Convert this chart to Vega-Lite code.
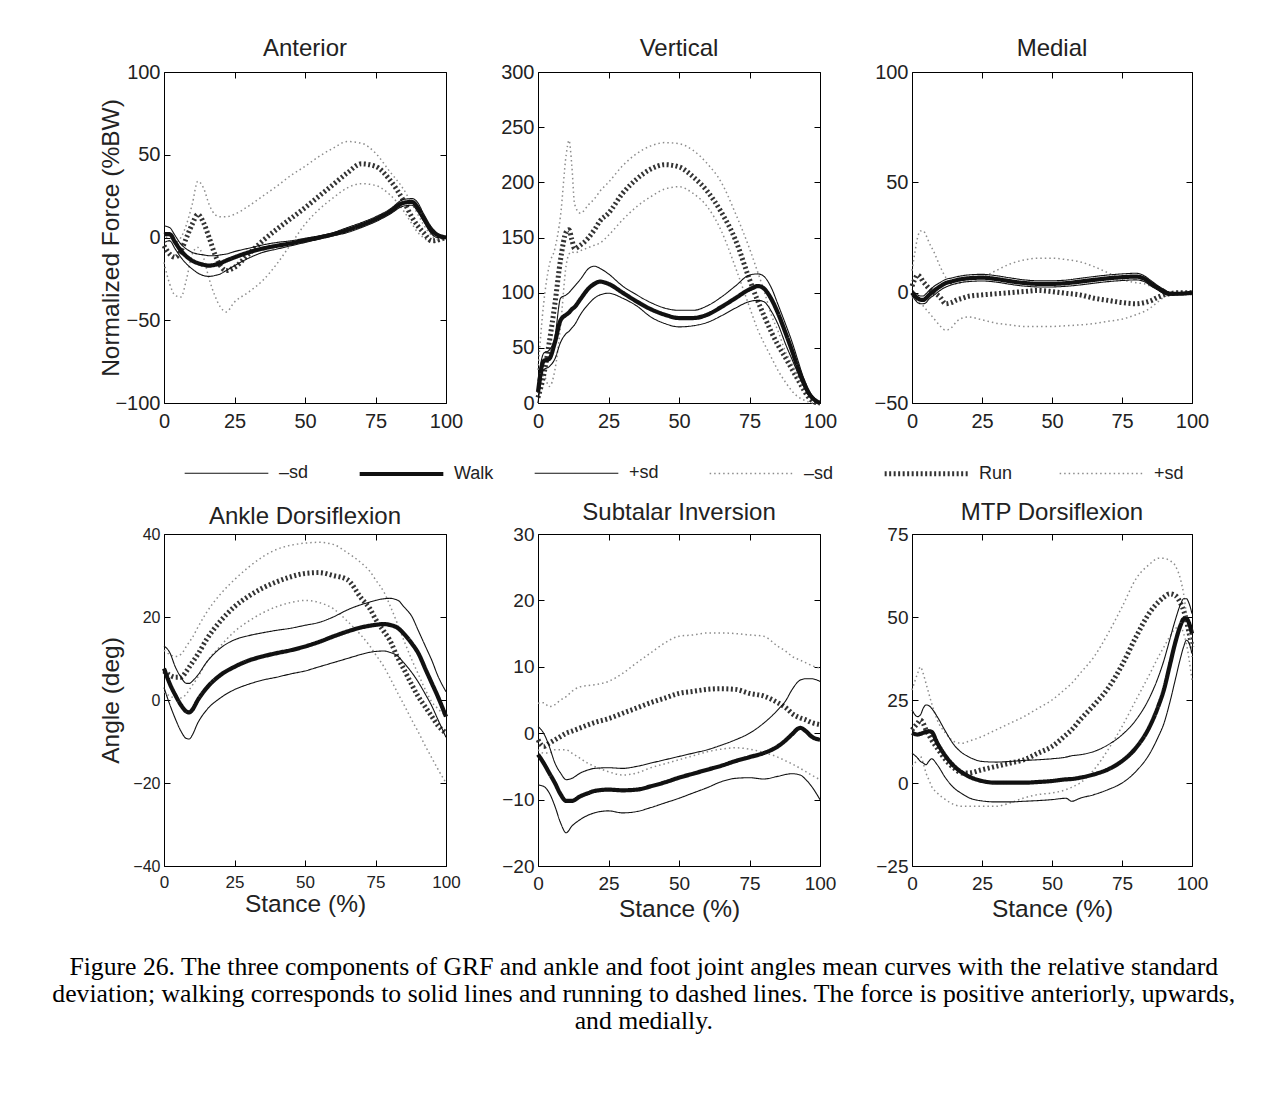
{
"$schema": "https://vega.github.io/schema/vega-lite/v6.json",
"background": "white",
"padding": {"left": 52, "top": 36, "right": 20, "bottom": 20},
"columns": 3,
"spacing": {"row": 131, "column": 92},
"bounds": "flush",
"title": {"text": ["Figure 26. The three components of GRF and ankle and foot joint angles mean curves with the relative standard", "deviation; walking corresponds to solid lines and running to dashed lines. The force is positive anteriorly, upwards,", "and medially."], "orient": "bottom", "anchor": "middle", "font": "Liberation Serif", "fontSize": 25.7, "fontWeight": "normal", "color": "#000000", "lineHeight": 27, "offset": 34, "dx": -10},
"datasets": {
"ant": [
{"x":0,"wm":-3,"w":2,"wp":7,"rm":-15,"r":-5,"rp":3},
{"x":2,"wm":-2,"w":2,"wp":6,"rm":-28,"r":-10,"rp":-2},
{"x":4,"wm":-7,"w":-3,"wp":1,"rm":-35,"r":-12,"rp":-3},
{"x":6,"wm":-12,"w":-8,"wp":-4,"rm":-36,"r":-8,"rp":0},
{"x":8,"wm":-16,"w":-11.5,"wp":-7,"rm":-25,"r":0,"rp":8},
{"x":10,"wm":-19,"w":-14,"wp":-9,"rm":-10,"r":8,"rp":20},
{"x":12,"wm":-21.5,"w":-15.5,"wp":-10,"rm":-6,"r":14,"rp":34},
{"x":14,"wm":-23,"w":-16.5,"wp":-10.5,"rm":-12,"r":9,"rp":30},
{"x":16,"wm":-23.5,"w":-17,"wp":-11,"rm":-25,"r":0,"rp":20},
{"x":18,"wm":-23,"w":-16.5,"wp":-11,"rm":-35,"r":-10,"rp":14},
{"x":20,"wm":-22,"w":-15.5,"wp":-10.5,"rm":-42,"r":-17,"rp":12.5},
{"x":22,"wm":-20,"w":-14,"wp":-10,"rm":-45,"r":-20,"rp":12.5},
{"x":25,"wm":-17,"w":-12,"wp":-8.5,"rm":-39,"r":-18,"rp":14},
{"x":30,"wm":-12.5,"w":-9,"wp":-6.5,"rm":-33,"r":-10,"rp":19},
{"x":35,"wm":-9,"w":-6.7,"wp":-4.5,"rm":-26,"r":-2,"rp":25},
{"x":40,"wm":-7,"w":-5,"wp":-3,"rm":-16,"r":5,"rp":31},
{"x":45,"wm":-5,"w":-3.5,"wp":-2,"rm":-4,"r":11.5,"rp":37.5},
{"x":50,"wm":-3,"w":-1.7,"wp":-0.5,"rm":8,"r":18,"rp":43},
{"x":55,"wm":-1,"w":0,"wp":1,"rm":17,"r":25,"rp":49},
{"x":60,"wm":1,"w":2,"wp":3,"rm":24,"r":32,"rp":54},
{"x":65,"wm":3,"w":4.5,"wp":6,"rm":30,"r":39,"rp":58},
{"x":70,"wm":6,"w":7.5,"wp":9,"rm":32.5,"r":44.5,"rp":57},
{"x":75,"wm":9.5,"w":11,"wp":12.5,"rm":31.5,"r":43,"rp":51},
{"x":80,"wm":14,"w":15.5,"wp":17,"rm":26,"r":35,"rp":40},
{"x":85,"wm":19,"w":21,"wp":23,"rm":16,"r":22,"rp":29},
{"x":88,"wm":19.5,"w":21.5,"wp":23.5,"rm":8,"r":12,"rp":20},
{"x":90,"wm":15.5,"w":18,"wp":21,"rm":3,"r":7,"rp":14},
{"x":92,"wm":10,"w":12,"wp":14.5,"rm":0,"r":3,"rp":8},
{"x":95,"wm":2,"w":4,"wp":6,"rm":-3,"r":-2,"rp":1},
{"x":97,"wm":0,"w":1.5,"wp":2.5,"rm":-2,"r":-1.5,"rp":-1},
{"x":100,"wm":0,"w":0,"wp":0,"rm":0,"r":0,"rp":0}
],
"vert": [
{"x":0,"wm":0,"w":10,"wp":20,"rm":0,"r":5,"rp":30},
{"x":2,"wm":30,"w":38,"wp":45,"rm":25,"r":25,"rp":90},
{"x":4,"wm":33,"w":40,"wp":48,"rm":15,"r":55,"rp":125},
{"x":6,"wm":40,"w":55,"wp":60,"rm":30,"r":90,"rp":140},
{"x":8,"wm":55,"w":75,"wp":95,"rm":70,"r":130,"rp":170},
{"x":10,"wm":63,"w":80,"wp":98,"rm":125,"r":155,"rp":225},
{"x":11,"wm":65,"w":82,"wp":100,"rm":135,"r":157,"rp":238},
{"x":12,"wm":68,"w":85,"wp":103,"rm":137,"r":148,"rp":215},
{"x":13,"wm":71,"w":87,"wp":106,"rm":136,"r":140,"rp":180},
{"x":15,"wm":80,"w":94,"wp":112,"rm":138,"r":143,"rp":172},
{"x":18,"wm":90,"w":104,"wp":122,"rm":141,"r":150,"rp":180},
{"x":20,"wm":95,"w":108,"wp":124,"rm":143,"r":157,"rp":185},
{"x":22,"wm":98,"w":110,"wp":122,"rm":145,"r":165,"rp":192},
{"x":25,"wm":99.5,"w":108,"wp":117,"rm":152,"r":172,"rp":200},
{"x":30,"wm":95,"w":100,"wp":106,"rm":166,"r":190,"rp":215},
{"x":35,"wm":88,"w":92,"wp":98,"rm":178,"r":203,"rp":226},
{"x":40,"wm":78,"w":85,"wp":91,"rm":187,"r":212,"rp":233},
{"x":45,"wm":72,"w":80,"wp":86,"rm":194,"r":216,"rp":236},
{"x":50,"wm":69,"w":77,"wp":84,"rm":196,"r":214,"rp":235},
{"x":55,"wm":70,"w":77,"wp":84,"rm":190,"r":205,"rp":229},
{"x":60,"wm":73,"w":80,"wp":88,"rm":178,"r":192,"rp":217},
{"x":65,"wm":79,"w":87,"wp":96,"rm":156,"r":173,"rp":200},
{"x":70,"wm":86,"w":95,"wp":106,"rm":123,"r":148,"rp":172},
{"x":75,"wm":92,"w":103,"wp":116,"rm":87,"r":112,"rp":140},
{"x":78,"wm":93,"w":106,"wp":117,"rm":66,"r":92,"rp":118},
{"x":80,"wm":92,"w":104,"wp":115,"rm":55,"r":80,"rp":103},
{"x":83,"wm":82,"w":93,"wp":103,"rm":40,"r":63,"rp":78},
{"x":85,"wm":72,"w":82,"wp":90,"rm":30,"r":53,"rp":66},
{"x":88,"wm":52,"w":62,"wp":70,"rm":18,"r":40,"rp":45},
{"x":90,"wm":40,"w":48,"wp":56,"rm":11,"r":31,"rp":36},
{"x":92,"wm":28,"w":33,"wp":40,"rm":6,"r":22,"rp":24},
{"x":94,"wm":16,"w":20,"wp":24,"rm":3,"r":13,"rp":15},
{"x":96,"wm":7,"w":9,"wp":12,"rm":1,"r":5,"rp":8},
{"x":98,"wm":2,"w":3,"wp":4,"rm":0,"r":1,"rp":3},
{"x":100,"wm":0,"w":0,"wp":0,"rm":0,"r":0,"rp":0}
],
"med": [
{"x":0,"wm":-1.5,"w":0,"wp":1.5,"rm":-2,"r":3,"rp":10},
{"x":1,"wm":-3,"w":-1.5,"wp":0,"rm":-3,"r":6,"rp":18},
{"x":2,"wm":-4.5,"w":-2.5,"wp":-1,"rm":-4,"r":8,"rp":25},
{"x":3,"wm":-5,"w":-3.2,"wp":-1.5,"rm":-5,"r":7,"rp":28},
{"x":4,"wm":-5,"w":-3.3,"wp":-1.5,"rm":-6,"r":5,"rp":28},
{"x":5,"wm":-4.5,"w":-2.5,"wp":-0.5,"rm":-7.5,"r":3.5,"rp":26},
{"x":6,"wm":-3,"w":-1.2,"wp":0.8,"rm":-9,"r":2,"rp":23},
{"x":8,"wm":-1,"w":1,"wp":3,"rm":-12,"r":0,"rp":18},
{"x":10,"wm":1,"w":2.8,"wp":4.6,"rm":-15,"r":-2,"rp":12},
{"x":12,"wm":2.5,"w":4.3,"wp":6,"rm":-17,"r":-5,"rp":7},
{"x":14,"wm":3.5,"w":5,"wp":6.6,"rm":-16,"r":-4.5,"rp":4},
{"x":16,"wm":4.2,"w":5.7,"wp":7.2,"rm":-13,"r":-3.3,"rp":4},
{"x":18,"wm":4.7,"w":6.2,"wp":7.7,"rm":-11.5,"r":-2.5,"rp":5},
{"x":20,"wm":5,"w":6.5,"wp":8,"rm":-11,"r":-1.7,"rp":6},
{"x":25,"wm":5.3,"w":6.8,"wp":8.3,"rm":-12.3,"r":-1,"rp":7},
{"x":30,"wm":4.8,"w":6.2,"wp":7.7,"rm":-13.8,"r":-0.5,"rp":10},
{"x":35,"wm":3.8,"w":5.2,"wp":6.7,"rm":-14.6,"r":0,"rp":13},
{"x":40,"wm":3,"w":4.4,"wp":5.8,"rm":-15.3,"r":0.5,"rp":14.8},
{"x":45,"wm":2.6,"w":4,"wp":5.4,"rm":-15.3,"r":1,"rp":15.6},
{"x":50,"wm":2.6,"w":4,"wp":5.4,"rm":-15.3,"r":0.5,"rp":15.6},
{"x":55,"wm":2.9,"w":4.3,"wp":5.7,"rm":-15,"r":-0.3,"rp":15},
{"x":60,"wm":3.5,"w":5,"wp":6.5,"rm":-14.6,"r":-1,"rp":14},
{"x":65,"wm":4.3,"w":5.8,"wp":7.3,"rm":-14,"r":-2.5,"rp":11.8},
{"x":70,"wm":5,"w":6.5,"wp":8,"rm":-13,"r":-3.5,"rp":9},
{"x":75,"wm":5.5,"w":7,"wp":8.5,"rm":-12,"r":-4.5,"rp":6},
{"x":80,"wm":5.8,"w":7.3,"wp":8.8,"rm":-10,"r":-5,"rp":4.5},
{"x":83,"wm":5,"w":6.3,"wp":7.6,"rm":-8.5,"r":-4.5,"rp":4},
{"x":85,"wm":3.3,"w":4.5,"wp":5.8,"rm":-7,"r":-3.8,"rp":3},
{"x":88,"wm":1,"w":2,"wp":3,"rm":-4,"r":-2,"rp":1.5},
{"x":90,"wm":-0.5,"w":0.5,"wp":1.5,"rm":-2,"r":-1,"rp":0.5},
{"x":92,"wm":-1.2,"w":-0.5,"wp":0.2,"rm":-1,"r":-0.5,"rp":0},
{"x":95,"wm":-1,"w":-0.5,"wp":0,"rm":-0.5,"r":0,"rp":0},
{"x":100,"wm":0,"w":0,"wp":0,"rm":0,"r":0,"rp":0}
],
"ank": [
{"x":0,"wm":3,"w":7.6,"wp":13,"rm":2,"r":7,"rp":12},
{"x":2,"wm":-1,"w":4,"wp":11.5,"rm":1,"r":6,"rp":11},
{"x":4,"wm":-4.5,"w":1.2,"wp":8,"rm":0.5,"r":5.5,"rp":10.5},
{"x":6,"wm":-7.5,"w":-1.2,"wp":5.5,"rm":0.5,"r":5.5,"rp":11},
{"x":8,"wm":-9.3,"w":-2.8,"wp":4,"rm":1.5,"r":7,"rp":13},
{"x":9,"wm":-9.4,"w":-3,"wp":4,"rm":2.5,"r":8,"rp":14},
{"x":10,"wm":-8.5,"w":-2.4,"wp":4.5,"rm":3.5,"r":9,"rp":15},
{"x":12,"wm":-5.5,"w":0,"wp":6,"rm":5.5,"r":11,"rp":17.5},
{"x":15,"wm":-2.5,"w":2.8,"wp":9,"rm":9,"r":14.5,"rp":21},
{"x":20,"wm":0.5,"w":6,"wp":12.5,"rm":13,"r":19,"rp":25.5},
{"x":25,"wm":2.5,"w":8,"wp":14.5,"rm":16.5,"r":22.5,"rp":29},
{"x":30,"wm":3.8,"w":9.5,"wp":15.5,"rm":19,"r":25,"rp":32},
{"x":35,"wm":4.8,"w":10.5,"wp":16.2,"rm":21,"r":27,"rp":34.5},
{"x":40,"wm":5.5,"w":11.3,"wp":16.8,"rm":22.5,"r":28.5,"rp":36.3},
{"x":45,"wm":6.3,"w":12,"wp":17.3,"rm":23.5,"r":29.7,"rp":37.3},
{"x":50,"wm":7,"w":12.9,"wp":18,"rm":24,"r":30.5,"rp":37.8},
{"x":55,"wm":8,"w":14,"wp":18.7,"rm":23.5,"r":30.7,"rp":38},
{"x":60,"wm":9,"w":15.3,"wp":20,"rm":22,"r":30,"rp":37.5},
{"x":65,"wm":10,"w":16.5,"wp":21.7,"rm":19,"r":29,"rp":35.5},
{"x":70,"wm":11,"w":17.5,"wp":23,"rm":15.5,"r":24.5,"rp":33},
{"x":73,"wm":11.5,"w":17.9,"wp":23.6,"rm":13,"r":22,"rp":31},
{"x":75,"wm":11.7,"w":18.1,"wp":24,"rm":11,"r":19.5,"rp":29},
{"x":78,"wm":11.8,"w":18.3,"wp":24.4,"rm":8,"r":16.5,"rp":26},
{"x":80,"wm":11.5,"w":18.1,"wp":24.5,"rm":5.5,"r":14.5,"rp":23},
{"x":83,"wm":10.5,"w":17.3,"wp":24,"rm":1.5,"r":10,"rp":18},
{"x":85,"wm":9,"w":16,"wp":22.5,"rm":-1,"r":7.5,"rp":14.5},
{"x":88,"wm":6.5,"w":13.5,"wp":20,"rm":-5,"r":3.5,"rp":9.5},
{"x":90,"wm":4.5,"w":11.5,"wp":17,"rm":-7.5,"r":1,"rp":6.5},
{"x":93,"wm":1,"w":7,"wp":12.5,"rm":-11.5,"r":-2,"rp":2},
{"x":95,"wm":-1.5,"w":4,"wp":9.5,"rm":-14,"r":-4,"rp":-0.5},
{"x":97,"wm":-4.5,"w":1,"wp":6,"rm":-16.5,"r":-6,"rp":-2},
{"x":100,"wm":-9,"w":-4,"wp":2,"rm":-20,"r":-8,"rp":-4}
],
"sub": [
{"x":0,"wm":-7.8,"w":-3.2,"wp":1,"rm":-2.5,"r":-1,"rp":4.5},
{"x":2,"wm":-8,"w":-4.5,"wp":0,"rm":-3,"r":-2,"rp":4.6},
{"x":4,"wm":-9,"w":-6,"wp":-2,"rm":-3,"r":-1.5,"rp":4},
{"x":6,"wm":-11,"w":-7.5,"wp":-4.5,"rm":-2.5,"r":-1,"rp":4.3},
{"x":8,"wm":-13.5,"w":-9.2,"wp":-6,"rm":-2.5,"r":-0.5,"rp":5},
{"x":10,"wm":-15,"w":-10.2,"wp":-7,"rm":-2.5,"r":0,"rp":5.5},
{"x":12,"wm":-14,"w":-10.2,"wp":-6.8,"rm":-3,"r":0.3,"rp":6.3},
{"x":15,"wm":-13,"w":-9.5,"wp":-6,"rm":-3.8,"r":0.8,"rp":7},
{"x":18,"wm":-12.3,"w":-9,"wp":-5.5,"rm":-4.6,"r":1.3,"rp":7.2},
{"x":20,"wm":-12,"w":-8.7,"wp":-5.3,"rm":-5,"r":1.6,"rp":7.3},
{"x":25,"wm":-11.7,"w":-8.5,"wp":-5.2,"rm":-5.8,"r":2.2,"rp":7.8},
{"x":30,"wm":-12,"w":-8.6,"wp":-5.3,"rm":-6.3,"r":3,"rp":9},
{"x":35,"wm":-11.8,"w":-8.5,"wp":-5,"rm":-6,"r":3.8,"rp":10.6},
{"x":40,"wm":-11.2,"w":-8,"wp":-4.5,"rm":-5.2,"r":4.6,"rp":12.1},
{"x":45,"wm":-10.5,"w":-7.4,"wp":-4,"rm":-4.6,"r":5.3,"rp":13.6},
{"x":50,"wm":-9.8,"w":-6.7,"wp":-3.5,"rm":-4,"r":6,"rp":14.6},
{"x":55,"wm":-9,"w":-6.1,"wp":-3,"rm":-3.4,"r":6.3,"rp":14.8},
{"x":60,"wm":-8.2,"w":-5.5,"wp":-2.5,"rm":-2.8,"r":6.6,"rp":15.1},
{"x":65,"wm":-7.3,"w":-4.9,"wp":-1.8,"rm":-2.4,"r":6.7,"rp":15.1},
{"x":70,"wm":-6.8,"w":-4.2,"wp":-1,"rm":-2.2,"r":6.6,"rp":15},
{"x":75,"wm":-6.7,"w":-3.6,"wp":0,"rm":-2.4,"r":6,"rp":14.8},
{"x":80,"wm":-6.9,"w":-3,"wp":1.5,"rm":-2.9,"r":5.6,"rp":14.6},
{"x":85,"wm":-6.5,"w":-2,"wp":3.5,"rm":-3.6,"r":4.6,"rp":13.1},
{"x":88,"wm":-6.2,"w":-1,"wp":5,"rm":-4.2,"r":3.8,"rp":12.3},
{"x":90,"wm":-6.1,"w":-0.2,"wp":6.5,"rm":-4.6,"r":3,"rp":11.6},
{"x":93,"wm":-6.3,"w":0.8,"wp":8,"rm":-5.3,"r":2.3,"rp":11},
{"x":95,"wm":-7,"w":0.3,"wp":8.2,"rm":-5.8,"r":2,"rp":10.6},
{"x":97,"wm":-8,"w":-0.5,"wp":8.2,"rm":-6.3,"r":1.6,"rp":10.2},
{"x":100,"wm":-10,"w":-1,"wp":7.8,"rm":-7,"r":1.3,"rp":9.8}
],
"mtp": [
{"x":0,"wm":9,"w":15.1,"wp":22,"rm":5,"r":16,"rp":28},
{"x":2,"wm":7.5,"w":14.6,"wp":20,"rm":7,"r":18,"rp":33},
{"x":3,"wm":6.5,"w":14.8,"wp":20.5,"rm":8,"r":19,"rp":35},
{"x":4,"wm":6,"w":15.1,"wp":22.5,"rm":6,"r":18,"rp":33},
{"x":5,"wm":5.5,"w":15.4,"wp":23.5,"rm":3,"r":16,"rp":30},
{"x":6,"wm":6.5,"w":15.6,"wp":23.3,"rm":1,"r":14.5,"rp":27},
{"x":7,"wm":7.3,"w":15.4,"wp":22.5,"rm":-1,"r":13,"rp":24},
{"x":9,"wm":5.5,"w":12.1,"wp":20,"rm":-3,"r":10.5,"rp":19},
{"x":12,"wm":1.5,"w":8.1,"wp":15.5,"rm":-5,"r":7,"rp":15},
{"x":15,"wm":-1.5,"w":5.1,"wp":11.5,"rm":-6.5,"r":4.5,"rp":12.5},
{"x":18,"wm":-3.3,"w":3.1,"wp":9,"rm":-7,"r":3,"rp":12},
{"x":20,"wm":-4.3,"w":2.1,"wp":8,"rm":-7,"r":3,"rp":12.5},
{"x":25,"wm":-5.4,"w":0.6,"wp":6.5,"rm":-7,"r":4,"rp":14},
{"x":30,"wm":-5.7,"w":0.1,"wp":6.3,"rm":-7,"r":5,"rp":16},
{"x":35,"wm":-5.7,"w":0.1,"wp":6.5,"rm":-6,"r":6,"rp":18},
{"x":40,"wm":-5.5,"w":0.1,"wp":6.8,"rm":-4.5,"r":7,"rp":20},
{"x":45,"wm":-5.3,"w":0.3,"wp":7,"rm":-3.5,"r":9,"rp":22.5},
{"x":50,"wm":-5,"w":0.6,"wp":7.3,"rm":-3,"r":11,"rp":25},
{"x":55,"wm":-4.6,"w":1.1,"wp":7.8,"rm":-2,"r":14.5,"rp":28.5},
{"x":57,"wm":-5.5,"w":1.2,"wp":8.2,"rm":-1.3,"r":16,"rp":30},
{"x":60,"wm":-4.6,"w":1.6,"wp":8.5,"rm":0,"r":19,"rp":33},
{"x":65,"wm":-3.5,"w":2.6,"wp":9.5,"rm":4,"r":23.5,"rp":38},
{"x":70,"wm":-2,"w":4.1,"wp":11.5,"rm":10,"r":28.5,"rp":45},
{"x":75,"wm":0,"w":6.6,"wp":14.5,"rm":17,"r":35.5,"rp":53},
{"x":80,"wm":3.5,"w":10.6,"wp":19,"rm":25,"r":44,"rp":61.5},
{"x":85,"wm":9,"w":17.2,"wp":26,"rm":33,"r":51.5,"rp":66},
{"x":88,"wm":14,"w":23.2,"wp":32,"rm":38,"r":54.5,"rp":67.7},
{"x":90,"wm":18,"w":28.2,"wp":37,"rm":41,"r":56,"rp":67.7},
{"x":92,"wm":24,"w":35.2,"wp":43,"rm":44,"r":57,"rp":67},
{"x":94,"wm":31,"w":42.2,"wp":49,"rm":46.5,"r":56.5,"rp":65.5},
{"x":96,"wm":38,"w":47.7,"wp":54,"rm":47,"r":54,"rp":61},
{"x":97,"wm":41,"w":49.4,"wp":55.5,"rm":45,"r":52,"rp":57},
{"x":98,"wm":43,"w":49.5,"wp":55.5,"rm":42,"r":49,"rp":51},
{"x":99,"wm":42,"w":48,"wp":54,"rm":37,"r":45,"rp":46},
{"x":100,"wm":39,"w":45,"wp":51,"rm":31,"r":41,"rp":38}
]
},
"concat": [
{
"title": {"text": "Anterior", "offset": 1},
"width": 282, "height": 331,
"data": {"name": "ant"},
"transform": [{"fold": ["rm","r","rp","wm","w","wp"], "as": ["s","v"]}],
"layer": [
{"mark": {"type": "line", "interpolate": "monotone"},
"encoding": {
"x": {"field": "x", "type": "quantitative", "scale": {"domain": [0,100], "nice": false, "zero": false}, "axis": {"values": [0,25,50,75,100], "title": null}},
"y": {"field": "v", "type": "quantitative", "scale": {"domain": [-100,100], "nice": false, "zero": false}, "axis": {"values": [-100,-50,0,50,100], "title": "Normalized Force (%BW)", "titlePadding": -9}},
"color": {"field": "s", "type": "nominal", "scale": {"domain": ["wm","w","wp","rm","r","rp"], "range": ["#111111","#111111","#111111","#8c8c8c","#333333","#8c8c8c"]},
"legend": {"orient": "none", "legendX": 18, "legendY": 357, "direction": "horizontal", "columns": 6, "title": null, "symbolType": "stroke", "symbolSize": 7000, "labelFont": "Liberation Sans", "labelFontSize": 18, "labelColor": "#222222", "labelOffset": 8, "columnPadding": 30, "gridAlign": "all", "padding": 0, "labelExpr": "datum.value == 'w' ? 'Walk' : datum.value == 'r' ? 'Run' : (datum.value == 'wm' || datum.value == 'rm') ? '\u2013sd' : '+sd'"}},
"strokeDash": {"field": "s", "type": "nominal", "scale": {"domain": ["wm","w","wp","rm","r","rp"], "range": [[1,0],[1,0],[1,0],[1.5,3],[2,2.5],[1.5,3]]}},
"strokeWidth": {"field": "s", "type": "nominal", "scale": {"type": "ordinal", "domain": ["wm","w","wp","rm","r","rp"], "range": [1.1,4.2,1.1,1.5,5,1.5]}}
}},
{"mark": {"type": "point", "opacity": 0},
"encoding": {
"x": {"field": "x", "type": "quantitative", "axis": {"orient": "top", "labels": false, "title": null, "values": [0,25,50,75,100]}},
"y": {"field": "v", "type": "quantitative", "axis": {"orient": "right", "labels": false, "title": null, "values": [-100,-50,0,50,100]}}
}}
],
"resolve": {"axis": {"x": "independent", "y": "independent"}}
},
{
"title": {"text": "Vertical", "offset": 1},
"width": 282, "height": 331,
"data": {"name": "vert"},
"transform": [{"fold": ["rm","r","rp","wm","w","wp"], "as": ["s","v"]}],
"layer": [
{"mark": {"type": "line", "interpolate": "monotone"},
"encoding": {
"x": {"field": "x", "type": "quantitative", "scale": {"domain": [0,100], "nice": false, "zero": false}, "axis": {"values": [0,25,50,75,100], "title": null}},
"y": {"field": "v", "type": "quantitative", "scale": {"domain": [0,300], "nice": false, "zero": false}, "axis": {"values": [0,50,100,150,200,250,300], "title": null}},
"color": {"field": "s", "type": "nominal", "scale": {"domain": ["wm","w","wp","rm","r","rp"], "range": ["#111111","#111111","#111111","#8c8c8c","#333333","#8c8c8c"]},
"legend": {"orient": "none", "legendX": 18, "legendY": 357, "direction": "horizontal", "columns": 6, "title": null, "symbolType": "stroke", "symbolSize": 7000, "labelFont": "Liberation Sans", "labelFontSize": 18, "labelColor": "#222222", "labelOffset": 8, "columnPadding": 30, "gridAlign": "all", "padding": 0, "labelExpr": "datum.value == 'w' ? 'Walk' : datum.value == 'r' ? 'Run' : (datum.value == 'wm' || datum.value == 'rm') ? '\u2013sd' : '+sd'"}},
"strokeDash": {"field": "s", "type": "nominal", "scale": {"domain": ["wm","w","wp","rm","r","rp"], "range": [[1,0],[1,0],[1,0],[1.5,3],[2,2.5],[1.5,3]]}},
"strokeWidth": {"field": "s", "type": "nominal", "scale": {"type": "ordinal", "domain": ["wm","w","wp","rm","r","rp"], "range": [1.1,4.2,1.1,1.5,5,1.5]}}
}},
{"mark": {"type": "point", "opacity": 0},
"encoding": {
"x": {"field": "x", "type": "quantitative", "axis": {"orient": "top", "labels": false, "title": null, "values": [0,25,50,75,100]}},
"y": {"field": "v", "type": "quantitative", "axis": {"orient": "right", "labels": false, "title": null, "values": [0,50,100,150,200,250,300]}}
}}
],
"resolve": {"axis": {"x": "independent", "y": "independent"}}
},
{
"title": {"text": "Medial", "offset": 1},
"width": 280, "height": 331,
"data": {"name": "med"},
"transform": [{"fold": ["rm","r","rp","wm","w","wp"], "as": ["s","v"]}],
"layer": [
{"mark": {"type": "line", "interpolate": "monotone"},
"encoding": {
"x": {"field": "x", "type": "quantitative", "scale": {"domain": [0,100], "nice": false, "zero": false}, "axis": {"values": [0,25,50,75,100], "title": null}},
"y": {"field": "v", "type": "quantitative", "scale": {"domain": [-50,100], "nice": false, "zero": false}, "axis": {"values": [-50,0,50,100], "title": null}},
"color": {"field": "s", "type": "nominal", "scale": {"domain": ["wm","w","wp","rm","r","rp"], "range": ["#111111","#111111","#111111","#8c8c8c","#333333","#8c8c8c"]},
"legend": {"orient": "none", "legendX": 18, "legendY": 357, "direction": "horizontal", "columns": 6, "title": null, "symbolType": "stroke", "symbolSize": 7000, "labelFont": "Liberation Sans", "labelFontSize": 18, "labelColor": "#222222", "labelOffset": 8, "columnPadding": 30, "gridAlign": "all", "padding": 0, "labelExpr": "datum.value == 'w' ? 'Walk' : datum.value == 'r' ? 'Run' : (datum.value == 'wm' || datum.value == 'rm') ? '\u2013sd' : '+sd'"}},
"strokeDash": {"field": "s", "type": "nominal", "scale": {"domain": ["wm","w","wp","rm","r","rp"], "range": [[1,0],[1,0],[1,0],[1.5,3],[2,2.5],[1.5,3]]}},
"strokeWidth": {"field": "s", "type": "nominal", "scale": {"type": "ordinal", "domain": ["wm","w","wp","rm","r","rp"], "range": [1.1,4.2,1.1,1.5,5,1.5]}}
}},
{"mark": {"type": "point", "opacity": 0},
"encoding": {
"x": {"field": "x", "type": "quantitative", "axis": {"orient": "top", "labels": false, "title": null, "values": [0,25,50,75,100]}},
"y": {"field": "v", "type": "quantitative", "axis": {"orient": "right", "labels": false, "title": null, "values": [-50,0,50,100]}}
}}
],
"resolve": {"axis": {"x": "independent", "y": "independent"}}
},
{
"title": {"text": "Ankle Dorsiflexion", "offset": -3},
"width": 282, "height": 332,
"data": {"name": "ank"},
"transform": [{"fold": ["rm","r","rp","wm","w","wp"], "as": ["s","v"]}],
"layer": [
{"mark": {"type": "line", "interpolate": "monotone"},
"encoding": {
"x": {"field": "x", "type": "quantitative", "scale": {"domain": [0,100], "nice": false, "zero": false}, "axis": {"values": [0,25,50,75,100], "title": "Stance (%)", "labelFontSize": 17, "titlePadding": 2}},
"y": {"field": "v", "type": "quantitative", "scale": {"domain": [-40,40], "nice": false, "zero": false}, "axis": {"values": [-40,-20,0,20,40], "title": "Angle (deg)", "labelFontSize": 16, "titlePadding": 9}},
"color": {"field": "s", "type": "nominal", "scale": {"domain": ["wm","w","wp","rm","r","rp"], "range": ["#111111","#111111","#111111","#8c8c8c","#333333","#8c8c8c"]},
"legend": {"orient": "none", "legendX": 18, "legendY": 357, "direction": "horizontal", "columns": 6, "title": null, "symbolType": "stroke", "symbolSize": 7000, "labelFont": "Liberation Sans", "labelFontSize": 18, "labelColor": "#222222", "labelOffset": 8, "columnPadding": 30, "gridAlign": "all", "padding": 0, "labelExpr": "datum.value == 'w' ? 'Walk' : datum.value == 'r' ? 'Run' : (datum.value == 'wm' || datum.value == 'rm') ? '\u2013sd' : '+sd'"}},
"strokeDash": {"field": "s", "type": "nominal", "scale": {"domain": ["wm","w","wp","rm","r","rp"], "range": [[1,0],[1,0],[1,0],[1.5,3],[2,2.5],[1.5,3]]}},
"strokeWidth": {"field": "s", "type": "nominal", "scale": {"type": "ordinal", "domain": ["wm","w","wp","rm","r","rp"], "range": [1.1,4.2,1.1,1.5,5,1.5]}}
}},
{"mark": {"type": "point", "opacity": 0},
"encoding": {
"x": {"field": "x", "type": "quantitative", "axis": {"orient": "top", "labels": false, "title": null, "values": [0,25,50,75,100]}},
"y": {"field": "v", "type": "quantitative", "axis": {"orient": "right", "labels": false, "title": null, "values": [-40,-20,0,20,40]}}
}}
],
"resolve": {"axis": {"x": "independent", "y": "independent"}}
},
{
"title": {"text": "Subtalar Inversion", "offset": 0},
"width": 282, "height": 332,
"data": {"name": "sub"},
"transform": [{"fold": ["rm","r","rp","wm","w","wp"], "as": ["s","v"]}],
"layer": [
{"mark": {"type": "line", "interpolate": "monotone"},
"encoding": {
"x": {"field": "x", "type": "quantitative", "scale": {"domain": [0,100], "nice": false, "zero": false}, "axis": {"values": [0,25,50,75,100], "title": "Stance (%)", "labelFontSize": 19, "titlePadding": 4}},
"y": {"field": "v", "type": "quantitative", "scale": {"domain": [-20,30], "nice": false, "zero": false}, "axis": {"values": [-20,-10,0,10,20,30], "title": null, "labelFontSize": 19}},
"color": {"field": "s", "type": "nominal", "scale": {"domain": ["wm","w","wp","rm","r","rp"], "range": ["#111111","#111111","#111111","#8c8c8c","#333333","#8c8c8c"]},
"legend": {"orient": "none", "legendX": 18, "legendY": 357, "direction": "horizontal", "columns": 6, "title": null, "symbolType": "stroke", "symbolSize": 7000, "labelFont": "Liberation Sans", "labelFontSize": 18, "labelColor": "#222222", "labelOffset": 8, "columnPadding": 30, "gridAlign": "all", "padding": 0, "labelExpr": "datum.value == 'w' ? 'Walk' : datum.value == 'r' ? 'Run' : (datum.value == 'wm' || datum.value == 'rm') ? '\u2013sd' : '+sd'"}},
"strokeDash": {"field": "s", "type": "nominal", "scale": {"domain": ["wm","w","wp","rm","r","rp"], "range": [[1,0],[1,0],[1,0],[1.5,3],[2,2.5],[1.5,3]]}},
"strokeWidth": {"field": "s", "type": "nominal", "scale": {"type": "ordinal", "domain": ["wm","w","wp","rm","r","rp"], "range": [1.1,4.2,1.1,1.5,5,1.5]}}
}},
{"mark": {"type": "point", "opacity": 0},
"encoding": {
"x": {"field": "x", "type": "quantitative", "axis": {"orient": "top", "labels": false, "title": null, "values": [0,25,50,75,100]}},
"y": {"field": "v", "type": "quantitative", "axis": {"orient": "right", "labels": false, "title": null, "values": [-20,-10,0,10,20,30]}}
}}
],
"resolve": {"axis": {"x": "independent", "y": "independent"}}
},
{
"title": {"text": "MTP Dorsiflexion", "offset": 0},
"width": 280, "height": 332,
"data": {"name": "mtp"},
"transform": [{"fold": ["rm","r","rp","wm","w","wp"], "as": ["s","v"]}],
"layer": [
{"mark": {"type": "line", "interpolate": "monotone"},
"encoding": {
"x": {"field": "x", "type": "quantitative", "scale": {"domain": [0,100], "nice": false, "zero": false}, "axis": {"values": [0,25,50,75,100], "title": "Stance (%)", "labelFontSize": 19, "titlePadding": 4}},
"y": {"field": "v", "type": "quantitative", "scale": {"domain": [-25,75], "nice": false, "zero": false}, "axis": {"values": [-25,0,25,50,75], "title": null, "labelFontSize": 19}},
"color": {"field": "s", "type": "nominal", "scale": {"domain": ["wm","w","wp","rm","r","rp"], "range": ["#111111","#111111","#111111","#8c8c8c","#333333","#8c8c8c"]},
"legend": {"orient": "none", "legendX": 18, "legendY": 357, "direction": "horizontal", "columns": 6, "title": null, "symbolType": "stroke", "symbolSize": 7000, "labelFont": "Liberation Sans", "labelFontSize": 18, "labelColor": "#222222", "labelOffset": 8, "columnPadding": 30, "gridAlign": "all", "padding": 0, "labelExpr": "datum.value == 'w' ? 'Walk' : datum.value == 'r' ? 'Run' : (datum.value == 'wm' || datum.value == 'rm') ? '\u2013sd' : '+sd'"}},
"strokeDash": {"field": "s", "type": "nominal", "scale": {"domain": ["wm","w","wp","rm","r","rp"], "range": [[1,0],[1,0],[1,0],[1.5,3],[2,2.5],[1.5,3]]}},
"strokeWidth": {"field": "s", "type": "nominal", "scale": {"type": "ordinal", "domain": ["wm","w","wp","rm","r","rp"], "range": [1.1,4.2,1.1,1.5,5,1.5]}}
}},
{"mark": {"type": "point", "opacity": 0},
"encoding": {
"x": {"field": "x", "type": "quantitative", "axis": {"orient": "top", "labels": false, "title": null, "values": [0,25,50,75,100]}},
"y": {"field": "v", "type": "quantitative", "axis": {"orient": "right", "labels": false, "title": null, "values": [-25,0,25,50,75]}}
}}
],
"resolve": {"axis": {"x": "independent", "y": "independent"}}
}
],
"config": {
"view": {"stroke": "#000000", "strokeWidth": 1},
"axis": {"domain": false, "grid": false, "tickSize": -6, "tickColor": "#000000", "tickWidth": 1, "labelFont": "Liberation Sans", "labelFontSize": 20, "labelColor": "#222222", "titleFont": "Liberation Sans", "titleFontSize": 24.5, "titleFontWeight": "normal", "titleColor": "#222222", "labelOverlap": false, "labelFlush": false, "labelBound": false},
"axisX": {"labelPadding": 14, "titlePadding": 4},
"axisY": {"labelPadding": 10, "titlePadding": 2},
"title": {"font": "Liberation Sans", "fontSize": 24, "fontWeight": "normal", "color": "#222222"}
}
}
